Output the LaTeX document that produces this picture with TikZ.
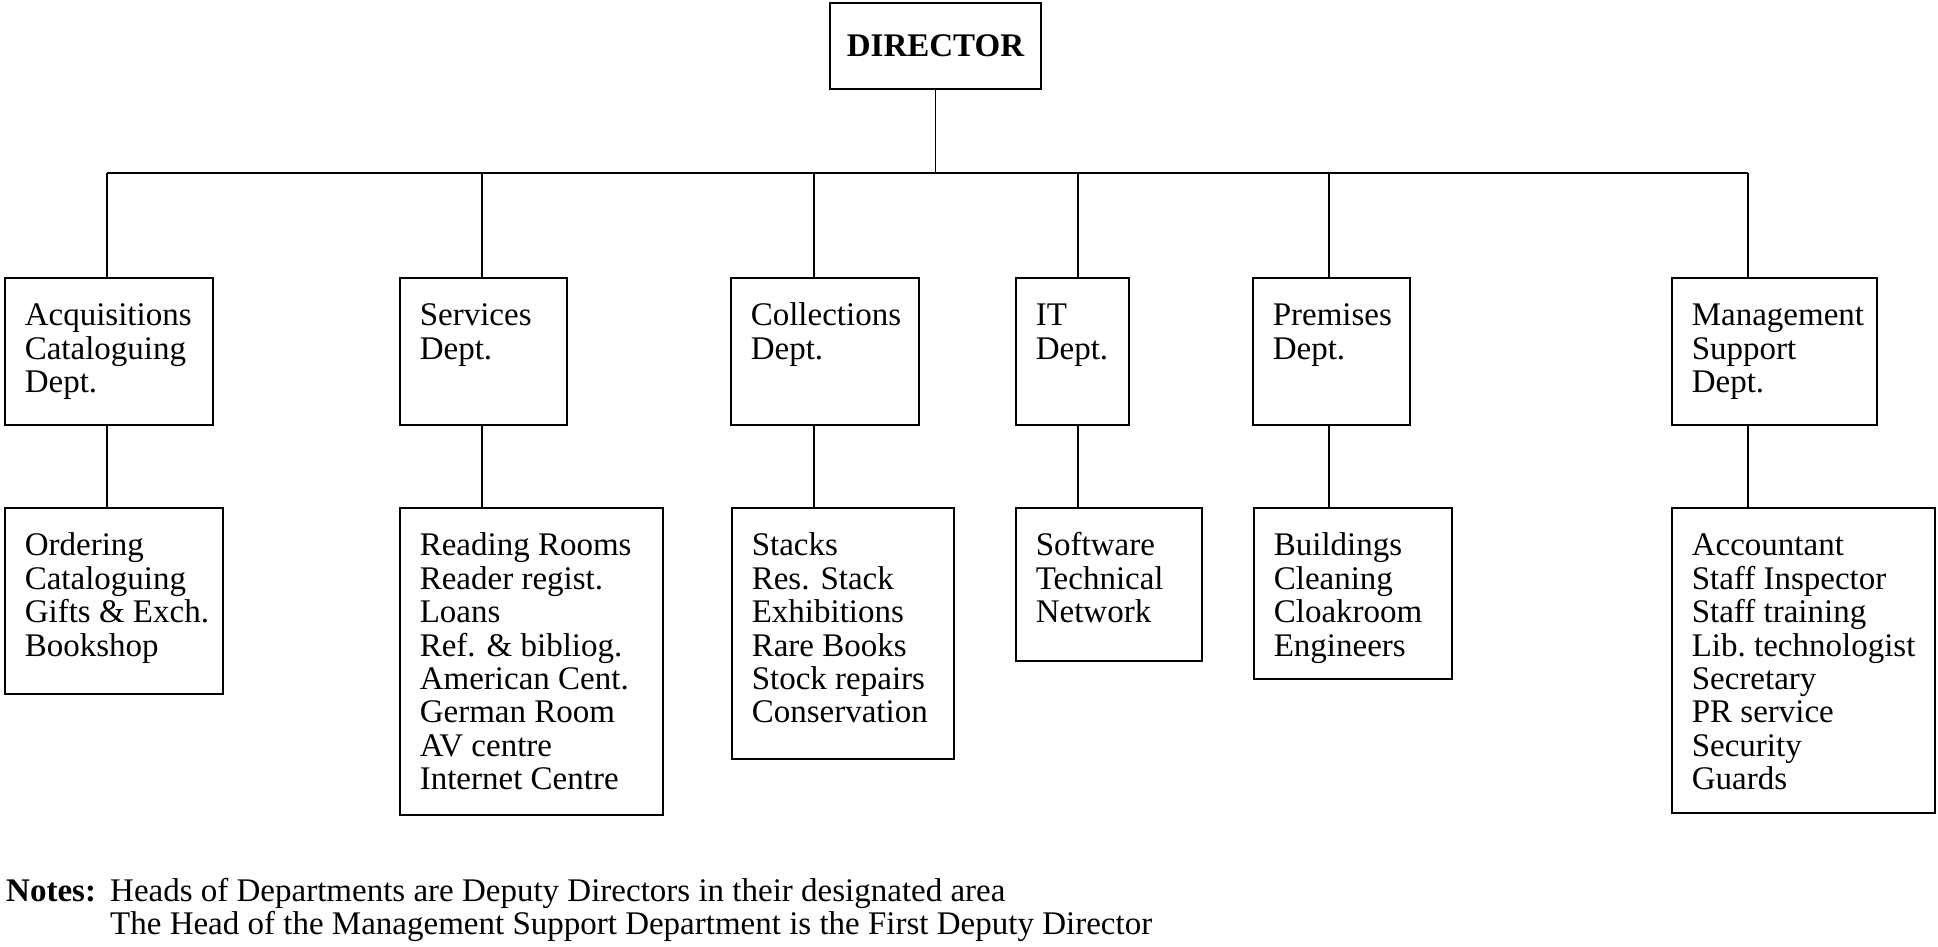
\documentclass[tikz,border=0pt]{standalone}
\usepackage{fontspec}
\setmainfont{Liberation Serif}
\usepackage{tikz}
\usetikzlibrary{calc}
\newcommand{\boxline}{1.6pt}
\newcommand{\tieline}{1.3pt}
\newcommand{\chartfont}{\fontsize{33}{33.4}\selectfont}
\newcommand{\unittext}[2]{\makebox[#1][l]{\begin{tabular}[t]{@{}l@{}}#2\end{tabular}}}

\begin{document}
\begin{tikzpicture}[x=1pt,y=-1pt,
  head/.style={draw, line width=\boxline, minimum width=211pt, minimum height=86pt, inner sep=0pt, font=\chartfont\bfseries},
  unit/.style={draw, line width=\boxline, anchor=north west, inner xsep=20pt, inner ysep=0pt, text height=48pt, font=\chartfont},
  tie/.style={line width=\tieline},
  note/.style={anchor=base west, inner sep=0pt, font=\chartfont}]
\useasboundingbox (0,0) rectangle (1938,946);
\node[head] (dir) at (935.5,46) {DIRECTOR};
%departments
\node[unit, text depth=99pt] (acq) at (4,277) {\unittext{168pt}{Acquisitions\\Cataloguing\\Dept.}};
\node[unit, text depth=99pt] (serv) at (399,277) {\unittext{127pt}{Services\\Dept.}};
\node[unit, text depth=99pt] (coll) at (730,277) {\unittext{148pt}{Collections\\Dept.}};
\node[unit, text depth=99pt] (it) at (1015,277) {\unittext{73pt}{IT\\Dept.}};
\node[unit, text depth=99pt] (prem) at (1252,277) {\unittext{117pt}{Premises\\Dept.}};
\node[unit, text depth=99pt] (mgmt) at (1671,277) {\unittext{165pt}{Management\\Support\\Dept.}};
%sections
\node[unit, text depth=138pt] (acqsec) at (4,507) {\unittext{178pt}{Ordering\\Cataloguing\\Gifts \& Exch.\\Bookshop}};
\node[unit, text depth=259pt] (servsec) at (399,507) {\unittext{223pt}{Reading Rooms\\Reader regist.\\Loans\\Ref. \& bibliog.\\American Cent.\\German Room\\AV centre\\Internet Centre}};
\node[unit, text depth=203pt] (collsec) at (731,507) {\unittext{182pt}{Stacks\\Res. Stack\\Exhibitions\\Rare Books\\Stock repairs\\Conservation}};
\node[unit, text depth=105pt] (itsec) at (1015,507) {\unittext{146pt}{Software\\Technical\\Network}};
\node[unit, text depth=123pt] (premsec) at (1253,507) {\unittext{158pt}{Buildings\\Cleaning\\Cloakroom\\Engineers}};
\node[unit, text depth=257pt] (mgmtsec) at (1671,507) {\unittext{223pt}{Accountant\\Staff Inspector\\Staff training\\Lib.~technologist\\Secretary\\PR service\\Security\\Guards}};
%stems
\coordinate (bus) at (0,173);
\coordinate (s1) at (107,0);
\coordinate (s2) at (482,0);
\coordinate (s3) at (814,0);
\coordinate (s4) at (1078,0);
\coordinate (s5) at (1329,0);
\coordinate (s6) at (1748,0);
\draw[tie] (dir.south) -- (dir.south |- bus);
\draw[line width=2pt] (s1 |- bus) -- (s6 |- bus);
\foreach \u/\s in {acq/s1,serv/s2,coll/s3,it/s4,prem/s5,mgmt/s6}{
  \draw[tie] (\s |- bus) -- (\s |- \u.north);
  \draw[tie] (\s |- \u.south) -- (\s |- \u sec.north);
}
%notes
\node[note, font=\chartfont\bfseries] (notes) at (6,901) {Notes:};
\node[note] (note1) at (110,901) {Heads of Departments are Deputy Directors in their designated area};
\node[note] (note2) at (110,934.4) {The Head of the Management Support Department is the First Deputy Director};
\end{tikzpicture}
\end{document}
